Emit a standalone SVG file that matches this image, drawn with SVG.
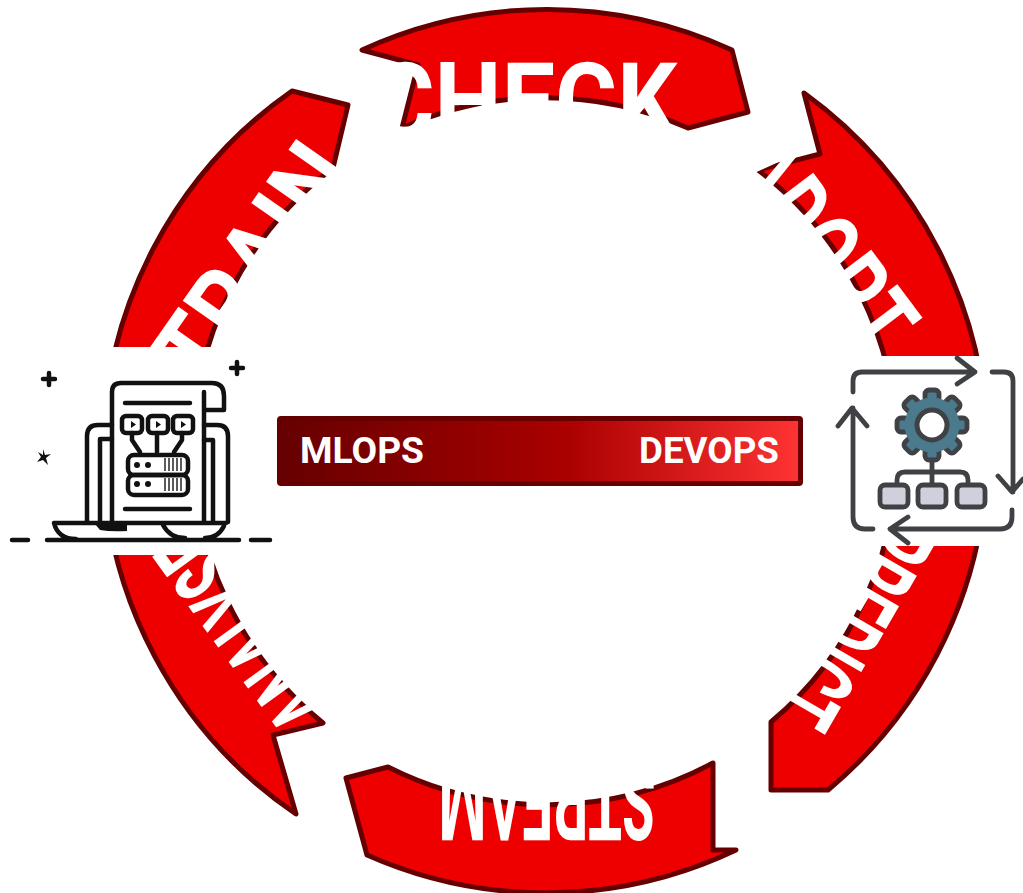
<svg xmlns="http://www.w3.org/2000/svg" width="1023" height="893" viewBox="0 0 1023 893">
<style>
.band{fill:#ee0000;stroke:#660000;stroke-width:5;stroke-linejoin:round}
.big{font-family:"Roboto","Liberation Sans",sans-serif;font-weight:700;font-size:106px;fill:#fff;text-anchor:middle}
.bar{font-family:"Roboto","Liberation Sans",sans-serif;font-weight:700;font-size:36px;fill:#fff}
.k{fill:none;stroke:#111;stroke-width:4.500;stroke-linecap:round;stroke-linejoin:round}
.g{fill:none;stroke:#3f4144;stroke-width:4.800;stroke-linecap:round;stroke-linejoin:round}
.tooth{fill:#4a7a8c;stroke:#3f4144;stroke-width:4.800}
.box{fill:#cfd0dc;stroke:#3f4144;stroke-width:4.800}
</style>
<defs>
<linearGradient id="grad" x1="0" x2="1" y1="0" y2="0">
<stop offset="0" stop-color="#660000"/><stop offset="0.55" stop-color="#aa0000"/><stop offset="1" stop-color="#ff3333"/>
</linearGradient>
<rect id="tooth" x="-7" y="-35" width="14" height="12" rx="4" class="tooth"/>
</defs>
<rect width="1023" height="893" fill="#fff"/>
<g id="connectors"/>
<g id="node-check">
<path class="band" d="M362 50A442 442 0 0 1 732 50L748 112L688 128A352 352 0 0 0 402 128L418 65Z"/>
<text class="big" transform="translate(525 138)" textLength="305" lengthAdjust="spacingAndGlyphs">CHECK</text>
</g>
<g id="node-adopt">
<path class="band" d="M804 93A442 442 0 0 1 987 450L897 450A352 352 0 0 0 758 170L820 154Z"/>
<text class="big" transform="translate(792 270) rotate(53)" textLength="236" lengthAdjust="spacingAndGlyphs">ADOPT</text>
</g>
<g id="node-predict">
<path class="band" d="M987 450A442 442 0 0 1 828 790L771 790L771 722A352 352 0 0 0 897 450Z"/>
<text class="big" transform="translate(815 601) rotate(120)" textLength="224" lengthAdjust="spacingAndGlyphs">PREDICT</text>
</g>
<g id="node-stream">
<path class="band" d="M713 763V850L736 850A442 442 0 0 1 367 855L346 778L388 767A352 352 0 0 0 713 763Z"/>
<text class="big" transform="translate(547 765) rotate(180)" textLength="217" lengthAdjust="spacingAndGlyphs">STREAM</text>
</g>
<g id="node-analyse">
<path class="band" d="M296 814A442 442 0 0 1 103 450L193 450A352 352 0 0 0 323 723L273 735Z"/>
<text class="big" transform="translate(279 603) rotate(234)" textLength="226" lengthAdjust="spacingAndGlyphs">ANALYSE</text>
</g>
<g id="node-train">
<path class="band" d="M103 450A442 442 0 0 1 292 91L348 105L333 168A352 352 0 0 0 193 450Z"/>
<text class="big" transform="translate(285 286) rotate(-55)" textLength="265" lengthAdjust="spacingAndGlyphs">TRAIN</text>
</g>
<g id="node-center">
<rect x="279.500" y="418.500" width="521" height="65" rx="1.500" fill="url(#grad)" stroke="#660000" stroke-width="5"/>
<text class="bar" x="300" y="463" textLength="124" lengthAdjust="spacingAndGlyphs">MLOPS</text>
<text class="bar" x="639" y="463" textLength="140" lengthAdjust="spacingAndGlyphs">DEVOPS</text>
</g>
<g id="node-mlops-icon">
<rect x="0" y="347" width="272" height="208" fill="#fff"/>
<path class="k" d="M112 522V392Q112 383 121 383H212Q224 383 224 396V410H206M204 392V522"/>
<path class="k" d="M125 403H190M125 509H190"/>
<rect class="k" x="122" y="416" width="20" height="17" rx="4"/>
<rect class="k" x="148" y="416" width="20" height="17" rx="4"/>
<rect class="k" x="173" y="416" width="20" height="17" rx="4"/>
<path d="M131 421l5 3.500l-5 3.500zM156 421l5 3.500l-5 3.500zM181 421l5 3.500l-5 3.500z" fill="#111"/>
<path class="k" d="M132 433V440L140 452M157 433V452M182 433V440L174 452"/>
<rect class="k" x="128" y="455" width="60" height="20" rx="6"/>
<rect class="k" x="128" y="475" width="60" height="20" rx="6"/>
<g fill="#111"><circle cx="137" cy="465" r="3"/><circle cx="148" cy="465" r="3"/><circle cx="137" cy="484" r="3"/><circle cx="148" cy="484" r="3"/></g>
<path d="M165 458v13M169 458v13M173 458v13M177 458v13M181 458v13M165 478v13M169 478v13M173 478v13M177 478v13M181 478v13" stroke="#333" stroke-width="1.600" fill="none"/>
<path class="k" d="M87 522V436Q87 425 98 425H112M100 522V439H112M204 425H217Q228 425 228 436V522M204 440H213V522"/>
<path class="k" d="M54 523H226M54 523Q58 539 76 539M163 525Q170 538 185 538M224 526Q218 538 205 538M47 540H239"/>
<path d="M95 524H127V531Q111 532 100 530Z" fill="#111"/>
<path d="M12 540H28M251 540H270" class="k" stroke-width="5"/>
<path class="k" d="M49 373V385M43 379H55M237 362V374M231 368H243"/>
<path d="M43 449l2 6l6 -1l-5 4l2 7l-5 -5l-6 2l4 -5l-3 -5l5 3z" fill="#111"/>
</g>
<g id="node-devops-icon">
<rect x="820" y="356" width="203" height="190" fill="#fff"/>
<path class="g" d="M853 392V381Q853 372 862 372H975M957 358L975 372L957 384"/>
<path class="g" d="M992 372H1004Q1013 372 1013 381V492M998 476L1012 492L1023 479"/>
<path class="g" d="M1012 510V517Q1012 529 1000 529H890M908 517L890 529L908 543"/>
<path class="g" d="M873 529H865Q853 529 853 517V408M838 426L852 408L867 426"/>
<g transform="translate(932 425)">
<use href="#tooth"/><use href="#tooth" transform="rotate(45)"/><use href="#tooth" transform="rotate(90)"/><use href="#tooth" transform="rotate(135)"/><use href="#tooth" transform="rotate(180)"/><use href="#tooth" transform="rotate(225)"/><use href="#tooth" transform="rotate(270)"/><use href="#tooth" transform="rotate(315)"/>
<circle r="27.500" fill="#4a7a8c"/>
<circle r="15" fill="#fff" stroke="#3f4144" stroke-width="5"/>
</g>
<path class="g" d="M932 460V485M897 485V480Q897 472 905 472H960Q968 472 968 480V485"/>
<rect class="box" x="880" y="485" width="28" height="22" rx="5"/>
<rect class="box" x="918" y="485" width="28" height="22" rx="5"/>
<rect class="box" x="957" y="485" width="28" height="22" rx="5"/>
</g>
</svg>
